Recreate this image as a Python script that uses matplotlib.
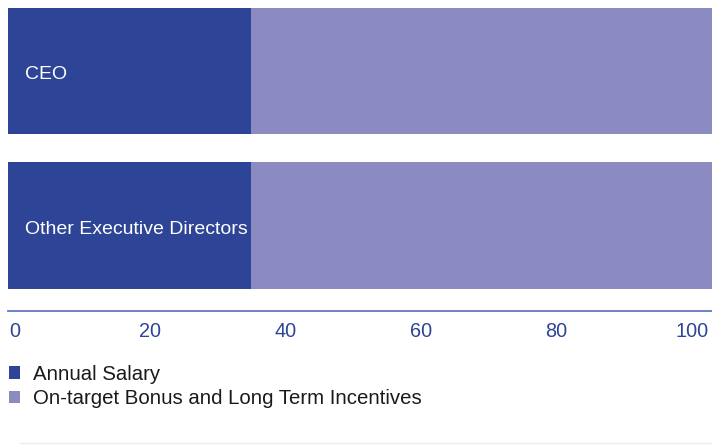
import matplotlib.pyplot as plt
from matplotlib.patches import Patch

plt.rcParams['font.family'] = ['Liberation Sans', 'DejaVu Sans']

roles = ['CEO', 'Other Executive Directors']
salary = [34.5, 34.5]
bonus = [65.5, 65.5]
series_names = ['Annual Salary', 'On-target Bonus and Long Term Incentives']
tick_values = [0, 20, 40, 60, 80, 100]

dark = '#2d4497'
light = '#8b8bc1'

fig = plt.figure(figsize=(7.12, 4.45), dpi=100)
ax = fig.add_axes([8 / 712, (445 - 311) / 445, 704 / 712, 303 / 445])

ypos = [1, 0]
ax.barh(ypos, salary, height=0.815, color=dark, edgecolor='none')
ax.barh(ypos, bonus, left=salary, height=0.815, color=light, edgecolor='none')

for y, name in zip(ypos, roles):
    ax.text(2.4, y - 0.025, name, color='white', fontsize=14, va='center', ha='left')

ax.set_xlim(0, 100)
ax.set_ylim(-0.552, 1.403)
ax.set_yticks([])
ax.set_xticks([])
for s in ['top', 'right', 'left']:
    ax.spines[s].set_visible(False)
ax.spines['bottom'].set_color('#6677c4')
ax.spines['bottom'].set_linewidth(1.3)

# tick labels sit on a slightly narrower scale than the bars
sec = ax.secondary_xaxis('bottom',
                         functions=(lambda x: (7.04 * x - 7) / 6.77,
                                    lambda v: (6.77 * v + 7) / 7.04))
sec.set_xticks(tick_values)
sec.tick_params(length=0, pad=8, labelsize=14.3, labelcolor=dark)
sec.spines['bottom'].set_visible(False)

handles = [Patch(facecolor=dark, edgecolor='none'),
           Patch(facecolor=light, edgecolor='none')]
fig.legend(handles, series_names, loc='upper left',
           bbox_to_anchor=(0.0015, (445 - 356.5) / 445), frameon=False,
           fontsize=14.7, handlelength=0.54, handleheight=0.54,
           handletextpad=0.64, labelspacing=0.27, borderaxespad=0,
           borderpad=0.4, labelcolor='#1a1a1a')

fig.add_artist(plt.Line2D([20 / 712, 1], [2 / 445, 2 / 445], color='#eeeeee', lw=1))

fig.savefig('out.png', dpi=100)
